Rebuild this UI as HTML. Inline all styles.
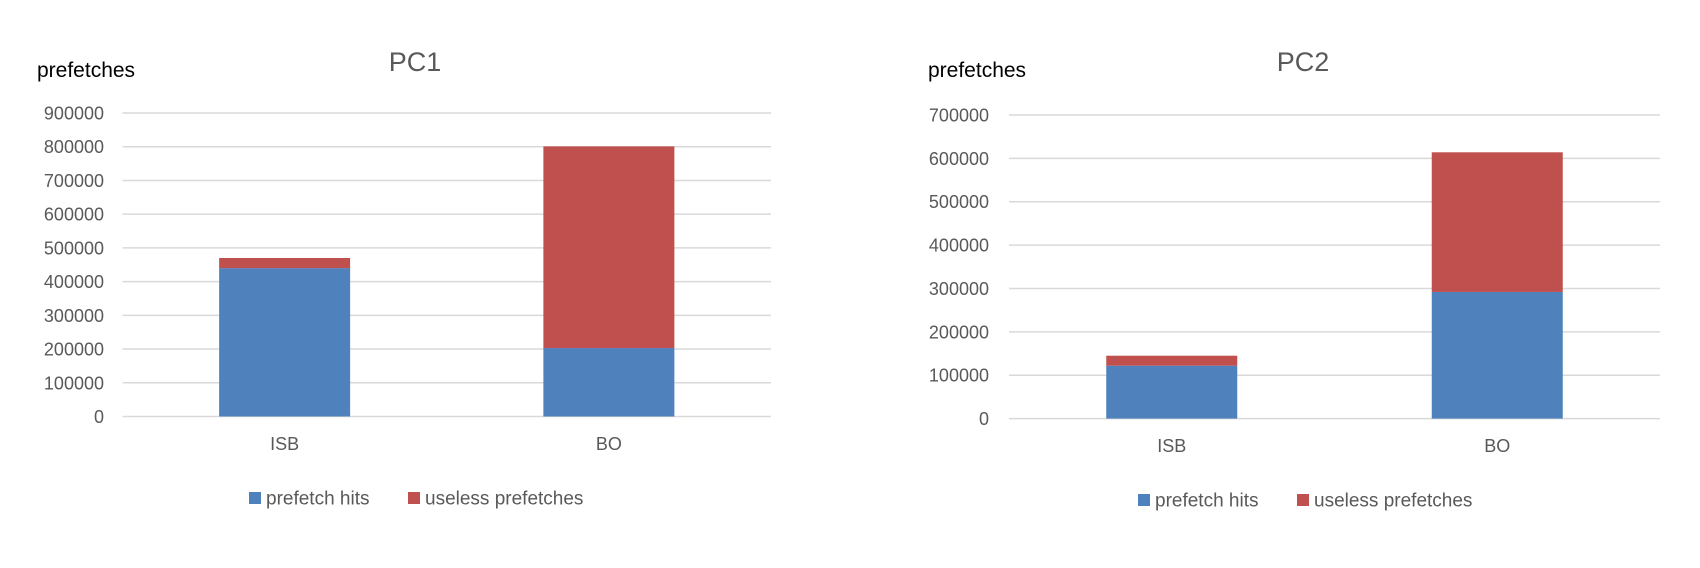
<!DOCTYPE html>
<html><head><meta charset="utf-8"><style>
html,body{margin:0;padding:0;background:#fff;width:1700px;height:568px;overflow:hidden}
svg{display:block}
</style></head><body>
<svg id="c" width="1700" height="568" xmlns="http://www.w3.org/2000/svg"></svg>
<script>
const categories = ["ISB", "BO"];
const pc1Hits = [440000, 203000];
const pc1Useless = [30000, 598000];
const pc1Ticks = [0,100000,200000,300000,400000,500000,600000,700000,800000,900000];
const pc2Hits = [122000, 292000];
const pc2Useless = [23000, 322000];
const pc2Ticks = [0,100000,200000,300000,400000,500000,600000,700000];

const NS = "http://www.w3.org/2000/svg";
const svg = document.getElementById('c');
function mk(tag, attrs, parent, text){
  const e = document.createElementNS(NS, tag);
  for (const k in attrs) e.setAttribute(k, attrs[k]);
  if (text !== undefined) e.textContent = text;
  (parent || svg).appendChild(e);
  return e;
}
const FONT = '"Liberation Sans", sans-serif';
function chart(cfg, hits, useless, ticks, prefix){
  const g = mk('g', {});
  
  
  const maxV = ticks[ticks.length-1];
  const y = v => cfg.y0 - (v / maxV) * (cfg.y0 - cfg.yTop);
  const band = (cfg.x1 - cfg.x0) / categories.length;
  const xc = i => cfg.x0 + band * (i + 0.5);
  ticks.forEach(t => {
    const l = mk('line', {x1:cfg.x0, x2:cfg.x1, y1:y(t), y2:y(t), stroke:'#d9d9d9', 'stroke-width':1.5}, g);
    
    
    const tx = mk('text', {x:cfg.tickX, y:y(t)+6.5, 'text-anchor':'end', 'font-size':18, fill:'#595959', 'font-family':FONT}, g, String(t));
    
    
  });
  categories.forEach((c, i) => {
    const bw = 131;
    const b = mk('rect', {x:xc(i)-bw/2, y:y(hits[i]), width:bw, height:y(0)-y(hits[i]), fill:'#4f81bd'}, g);
    
    
    const r = mk('rect', {x:xc(i)-bw/2, y:y(hits[i]+useless[i]), width:bw, height:y(hits[i])-y(hits[i]+useless[i]), fill:'#c0504d'}, g);
    
    
    const t = mk('text', {x:xc(i), y:cfg.catY, 'text-anchor':'middle', 'font-size':18, fill:'#595959', 'font-family':FONT}, g, c);
    
    
  });
  const ti = mk('text', {x:cfg.titleX, y:71, 'text-anchor':'middle', 'font-size':27, fill:'#595959', 'font-family':FONT}, g, cfg.title);
  
  
  const yl = mk('text', {x:cfg.ylX, y:77, 'font-size':21, fill:'#000', 'font-family':FONT}, g, 'prefetches');
  
  
  const s1 = mk('rect', {x:cfg.legX, y:cfg.legY-6, width:12, height:12, fill:'#4f81bd'}, g);
  
  
  const l1 = mk('text', {x:cfg.legX+17, y:cfg.legY+6.5, 'font-size':19, fill:'#595959', 'font-family':FONT}, g, 'prefetch hits');
  
  
  const s2 = mk('rect', {x:cfg.legX+159, y:cfg.legY-6, width:12, height:12, fill:'#c0504d'}, g);
  
  
  const l2 = mk('text', {x:cfg.legX+176, y:cfg.legY+6.5, 'font-size':19, fill:'#595959', 'font-family':FONT}, g, 'useless prefetches');
  
  
}
chart({x0:122.5, x1:771, yTop:113, y0:416.5, tickX:104, catY:450, titleX:415, ylX:37, legX:249, legY:498, title:'PC1'}, pc1Hits, pc1Useless, pc1Ticks, 'pc1');
chart({x0:1009, x1:1660, yTop:115, y0:418.6, tickX:989, catY:452, titleX:1303, ylX:928, legX:1138, legY:500, title:'PC2'}, pc2Hits, pc2Useless, pc2Ticks, 'pc2');
</script>
</body></html>
